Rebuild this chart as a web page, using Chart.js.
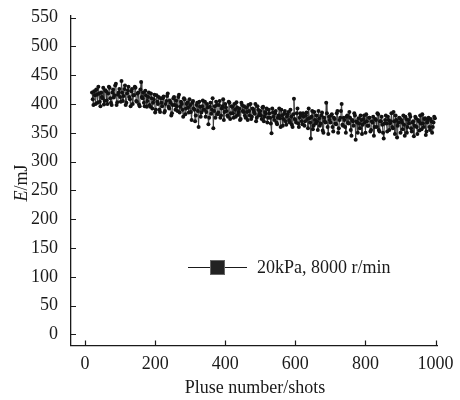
<!DOCTYPE html>
<html>
<head>
<meta charset="utf-8">
<script src="https://cdn.jsdelivr.net/npm/chart.js@4/dist/chart.umd.min.js"></script>
<style>
  html, body { margin: 0; padding: 0; background: #fff; }
  #wrap { width: 460px; height: 400px; }
</style>
</head>
<body>
<div id="wrap"><canvas id="chart" width="460" height="400"></canvas></div>
<script>
// pulse energy readings (mJ), two interleaved runs of readings, one every 4 shots
const startEven = 20;   // first shot of energyA
const startOdd = 22;    // first shot of energyB
const shotStep = 4;
const energyA = [
  420, 398, 415, 425, 402, 418, 396, 412, 428, 405,
  422, 400, 430, 410, 398, 425, 415, 435, 403, 420,
  412, 440, 405, 426, 398, 418, 430, 408, 422, 400,
  415, 428, 404, 420, 396, 438, 410, 402, 423, 395,
  412, 398, 418, 392, 408, 385, 415, 400, 390, 410,
  396, 413, 388, 405, 418, 392, 402, 384, 410, 398,
  406, 388, 416, 395, 400, 378, 408, 392, 403, 385,
  398, 372, 405, 390, 380, 402, 360, 395, 385, 406,
  390, 378, 400, 365, 395, 383, 410, 388, 376, 398,
  385, 405, 380, 396, 372, 400, 388, 378, 402, 384,
  395, 376, 390, 403, 381, 392, 374, 398, 386, 380,
  394, 372, 388, 400, 378, 390, 383, 370, 396, 380,
  388, 374, 395, 378, 383, 368, 390, 376, 349, 385,
  372, 388, 365, 380, 375, 390, 362, 383, 370, 378,
  386, 368, 378, 360, 409, 372, 384, 366, 376, 380,
  365, 378, 370, 385, 358, 375, 340, 388, 362, 372,
  380, 355, 375, 366, 385, 350, 370, 402, 360, 378,
  368, 382, 352, 374, 365, 388, 358, 376, 400, 362,
  372, 350, 380, 366, 376, 345, 370, 384, 338, 368,
  375, 358, 372, 364, 380, 350, 370, 362, 376, 355,
  368, 345, 374, 360, 382, 352, 370, 364, 340, 372,
  366, 378, 355, 370, 360, 386, 348, 372, 362, 376,
  350, 368, 380, 345, 374, 360, 366, 378, 352, 370,
  362, 375, 348, 370, 380, 356, 366, 374, 346, 368,
  376, 355, 370, 360, 378
];
const energyB = [
  408, 422, 400, 416, 430, 404, 420, 410, 399, 424,
  406, 418, 428, 402, 420, 411, 432, 398, 416, 426,
  404, 420, 414, 432, 402, 424, 412, 396, 426, 415,
  430, 405, 418, 399, 425, 412, 420, 396, 415, 405,
  420, 395, 410, 402, 416, 390, 404, 412, 386, 402,
  410, 385, 400, 414, 395, 406, 380, 398, 412, 390,
  396, 412, 385, 404, 390, 410, 382, 400, 394, 408,
  386, 402, 392, 370, 398, 388, 404, 378, 396, 390,
  404, 386, 394, 376, 402, 390, 358, 396, 404, 382,
  398, 376, 392, 408, 386, 394, 380, 404, 374, 396,
  384, 400, 378, 394, 386, 372, 402, 388, 396, 376,
  386, 398, 380, 374, 392, 386, 400, 376, 390, 384,
  380, 394, 370, 386, 392, 376, 384, 366, 392, 378,
  384, 368, 376, 392, 360, 380, 374, 388, 364, 382,
  372, 390, 364, 382, 374, 368, 392, 360, 384, 370,
  384, 362, 380, 374, 392, 368, 378, 356, 386, 366,
  370, 388, 362, 380, 354, 376, 368, 384, 348, 372,
  380, 360, 376, 366, 384, 350, 372, 388, 364, 376,
  360, 378, 368, 386, 355, 372, 362, 380, 370, 350,
  366, 380, 348, 374, 368, 382, 362, 376, 352, 370,
  378, 360, 372, 384, 355, 370, 378, 350, 366, 380,
  352, 372, 366, 384, 358, 370, 380, 342, 368, 375,
  372, 356, 364, 378, 350, 372, 382, 358, 368, 344,
  378, 360, 372, 354, 366, 382, 360, 375, 352, 372,
  360, 374, 350, 368, 375
];
const xTicks = [0, 200, 400, 600, 800, 1000];
const yTicks = [0, 50, 100, 150, 200, 250, 300, 350, 400, 450, 500, 550];
const seriesLabel = '20kPa, 8000 r/min';
const xTitle = 'Pluse number/shots';

const points = [];
energyA.forEach((e, i) => {
  points.push({ x: startEven + i * shotStep, y: e });
  if (i < energyB.length) points.push({ x: startOdd + i * shotStep, y: energyB[i] });
});

const FONT = '"Liberation Serif", "Times New Roman", serif';
const INK = '#1a1a1a';
const FS = 18;

// inward tick marks, legend, axis titles
const decor = {
  id: 'decor',
  afterDraw(chart) {
    const ctx = chart.ctx;
    const xs = chart.scales.x;
    const ys = chart.scales.y;
    const area = chart.chartArea;
    ctx.save();
    ctx.strokeStyle = INK;
    ctx.lineWidth = 1.2;
    ctx.beginPath();
    yTicks.forEach(v => {
      const py = Math.round(ys.getPixelForValue(v)) + 0.5;
      ctx.moveTo(area.left, py);
      ctx.lineTo(area.left + 5, py);
    });
    xTicks.forEach(v => {
      const px = Math.round(xs.getPixelForValue(v)) + 0.5;
      ctx.moveTo(px, area.bottom);
      ctx.lineTo(px, area.bottom - 5);
    });
    ctx.stroke();

    // legend
    const ly = 267;
    ctx.lineWidth = 1.2;
    ctx.beginPath();
    ctx.moveTo(188, ly + 0.5);
    ctx.lineTo(247, ly + 0.5);
    ctx.stroke();
    ctx.fillStyle = '#222';
    ctx.strokeStyle = '#666';
    ctx.lineWidth = 1;
    ctx.fillRect(210, ly - 7, 15, 15);
    ctx.strokeRect(210.5, ly - 6.5, 14, 14);
    ctx.fillStyle = INK;
    ctx.font = FS + 'px ' + FONT;
    ctx.textBaseline = 'middle';
    ctx.textAlign = 'left';
    ctx.fillText(seriesLabel, 257, ly + 1);

    // x title
    ctx.textAlign = 'center';
    ctx.fillText(xTitle, 255, 388);

    // y title with italic E
    ctx.translate(22, 183);
    ctx.rotate(-Math.PI / 2);
    ctx.textAlign = 'left';
    ctx.font = 'italic ' + FS + 'px ' + FONT;
    const w1 = ctx.measureText('E').width;
    ctx.font = FS + 'px ' + FONT;
    const w2 = ctx.measureText('/mJ').width;
    const start = -(w1 + w2) / 2;
    ctx.font = 'italic ' + FS + 'px ' + FONT;
    ctx.fillText('E', start, 0);
    ctx.font = FS + 'px ' + FONT;
    ctx.fillText('/mJ', start + w1, 0);
    ctx.restore();
  }
};

new Chart(document.getElementById('chart'), {
  type: 'line',
  data: {
    datasets: [{
      label: seriesLabel,
      data: points,
      borderColor: '#3a3a3a',
      borderWidth: 1,
      pointRadius: 2,
      pointBackgroundColor: '#111',
      pointBorderColor: '#111',
      pointBorderWidth: 0,
      tension: 0
    }]
  },
  options: {
    responsive: false,
    animation: false,
    layout: { padding: { left: 26, right: 23, top: -3, bottom: 25 } },
    plugins: {
      legend: { display: false },
      tooltip: { enabled: false }
    },
    scales: {
      x: {
        type: 'linear',
        min: -40,
        max: 1004,
        afterBuildTicks: s => { s.ticks = xTicks.map(v => ({ value: v })); },
        grid: { display: false },
        border: { display: true, color: INK, width: 1.3 },
        ticks: { color: INK, font: { family: FONT, size: FS }, padding: 0, maxRotation: 0, callback: v => String(v) }
      },
      y: {
        min: -19,
        max: 553,
        afterBuildTicks: s => { s.ticks = yTicks.map(v => ({ value: v })); },
        grid: { display: false },
        border: { display: true, color: INK, width: 1.3 },
        ticks: { color: INK, font: { family: FONT, size: FS }, padding: 5, callback: v => String(v) }
      }
    }
  },
  plugins: [decor]
});
</script>
</body>
</html>
